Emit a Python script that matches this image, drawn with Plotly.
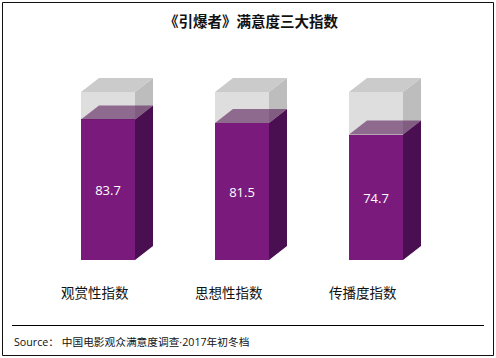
import plotly.graph_objects as go

categories = ["观赏性指数", "思想性指数", "传播度指数"]
values = [83.7, 81.5, 74.7]
full_scale = 100
title_text = "《引爆者》满意度三大指数"
source_text = "Source： 中国电影观众满意度调查·2017年初冬档"

W, H = 496, 358
# pixel anchors of the axes
px_per_cat, x0_px = 134, 108
px_per_val, y0_px = 1.68, 260
bar_w = 54 / px_per_cat
dx, dy = 18 / px_per_cat, 14 / px_per_val
FONT = "Noto Sans CJK SC, Microsoft YaHei, sans-serif"
LATIN_FONT = "Open Sans, Noto Sans CJK SC, sans-serif"

xs = list(range(len(categories)))


def side(x, lo, hi):
    r = x + bar_w / 2
    return [r, r + dx, r + dx, r, r, None], [lo, lo + dy, hi + dy, hi, lo, None]


def top(x, v):
    l, r = x - bar_w / 2, x + bar_w / 2
    return [l, r, r + dx, l + dx, l, None], [v, v, v + dy, v + dy, v, None]


def poly(build, args_list, color):
    X, Y = [], []
    for a in args_list:
        px, py = build(*a)
        X += px
        Y += py
    return go.Scatter(x=X, y=Y, mode="lines", fill="toself", fillcolor=color,
                      line=dict(width=0), hoverinfo="skip", showlegend=False)


fig = go.Figure()
fig.add_trace(go.Bar(x=xs, y=values, width=bar_w, marker=dict(color="#7A1A7C", line=dict(width=0)),
                     text=[str(v) for v in values], textposition="inside",
                     insidetextanchor="middle", textangle=0,
                     textfont=dict(color="white", size=13, family=LATIN_FONT), showlegend=False))
fig.add_trace(go.Bar(x=xs, y=[full_scale - v for v in values], base=values, width=bar_w,
                     marker=dict(color="#DEDEDE", line=dict(width=0)), textposition="none", showlegend=False))
fig.add_trace(poly(side, [(x, v, full_scale) for x, v in zip(xs, values)], "#BDBDBD"))
fig.add_trace(poly(top, [(x, full_scale) for x in xs], "#CBCBCB"))
fig.add_trace(poly(side, [(x, 0, v) for x, v in zip(xs, values)], "#4A0F50"))
fig.add_trace(poly(top, [(x, v) for x, v in zip(xs, values)], "rgba(90,28,90,0.6)"))

fig.update_layout(
    width=W, height=H, margin=dict(l=0, r=0, t=0, b=0), autosize=False,
    paper_bgcolor="white", plot_bgcolor="white", barmode="overlay", bargap=0,
    font=dict(family=FONT, color="#111111"),
    xaxis=dict(range=[-x0_px / px_per_cat, (W - x0_px) / px_per_cat], visible=False, fixedrange=True),
    yaxis=dict(range=[(y0_px - H) / px_per_val, y0_px / px_per_val], visible=False, fixedrange=True),
    shapes=[
        dict(type="rect", xref="paper", yref="paper", x0=2.5 / W, x1=493.5 / W, y0=1 - 355.5 / H, y1=1 - 2.5 / H,
             line=dict(color="#111111", width=1)),
        dict(type="line", xref="paper", yref="paper", x0=12 / W, x1=484 / W, y0=1 - 325.5 / H, y1=1 - 325.5 / H,
             line=dict(color="#000000", width=1)),
    ],
    annotations=[
        dict(text=f"<b>{title_text}</b>", xref="paper", yref="paper", x=251 / W, y=1 - 20 / H, showarrow=False,
             xanchor="center", yanchor="middle", font=dict(size=14.5, color="#111111", family=FONT)),
        dict(text=source_text, xref="paper", yref="paper", x=12 / W, y=1 - 342 / H, showarrow=False,
             xanchor="left", yanchor="middle", font=dict(size=10.7, color="#111111", family=LATIN_FONT)),
    ] + [
        dict(text=c, x=x, xref="x", xshift=-13, yref="paper", y=1 - 292 / H, showarrow=False,
             xanchor="center", yanchor="middle", font=dict(size=13.5, color="#111111", family=FONT))
        for x, c in zip(xs, categories)
    ],
)
fig.write_html("out.html", config=dict(displayModeBar=False),
               post_script="document.body.style.margin='0';document.documentElement.style.overflow='hidden';")
